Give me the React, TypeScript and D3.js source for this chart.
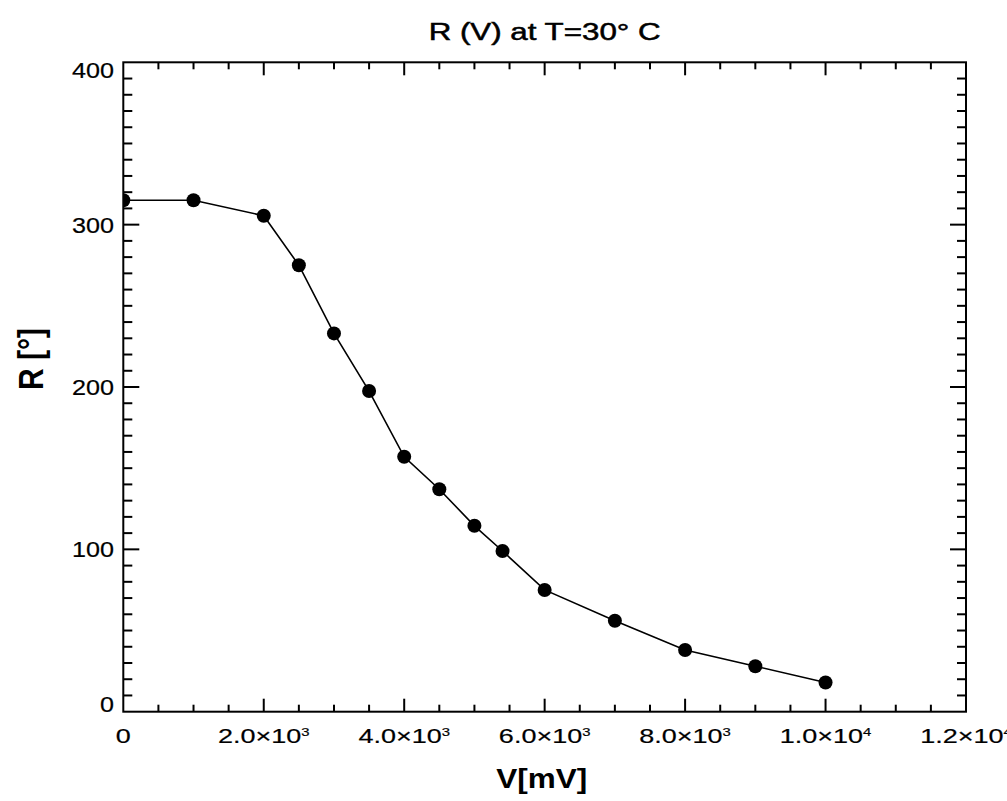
import React from "react";
import * as d3 from "d3";

const voltage = [0, 1000, 2000, 2500, 3000, 3500, 4000, 4500, 5000, 5400, 6000, 7000, 8000, 9000, 10000];
const resistance = [315, 315, 305.5, 275, 233, 197.5, 157, 137, 114.5, 99, 75, 56, 38, 28, 18];

const xMajorTicks = [0, 2000, 4000, 6000, 8000, 10000, 12000];
const xTickMantissa = ["0", "2.0×10", "4.0×10", "6.0×10", "8.0×10", "1.0×10", "1.2×10"];
const xTickExponent = ["", "3", "3", "3", "3", "4", "4"];
const yMajorTicks = [0, 100, 200, 300, 400];
const yTickLabels = ["0", "100", "200", "300", "400"];

const titleText = "R (V) at T=30° C";
const xLabelText = "V[mV]";
const yLabelText = "R [°]";

const W = 1007;
const H = 801;
const left = 123.3;
const right = 966;
const top = 62.3;
const bottom = 711.7;

export default function App() {
  const x = d3.scaleLinear().domain([0, 12000]).range([left, right]);
  const y = d3.scaleLinear().domain([0, 400]).range([bottom, top]);
  const xMinor = d3.range(0, 12001, 500);
  const yMinor = d3.range(0, 401, 10);
  const pts = voltage.map((v, i) => [v, resistance[i]] as [number, number]);
  const line = d3
    .line<[number, number]>()
    .x((d) => x(d[0]))
    .y((d) => y(d[1]));

  const font = "'Liberation Sans', Arial, sans-serif";
  const isXMajor = (v: number) => v % 2000 === 0;
  const isYMajor = (v: number) => v % 100 === 0;

  return (
    <svg
      width={W}
      height={H}
      style={{ position: "absolute", left: 0, top: 0, background: "#fff" }}
      fontFamily={font}
    >
      <defs>
        <clipPath id="plotClip">
          <rect x={left} y={top} width={right - left} height={bottom - top} />
        </clipPath>
      </defs>
      <rect x={0} y={0} width={W} height={H} fill="#fff" />

      {/* title */}
      <text x={(left + right) / 2} y={40} textAnchor="middle" fontSize={23} textLength={232} lengthAdjust="spacingAndGlyphs" fill="#000" stroke="#000" strokeWidth={0.5}>
        {titleText}
      </text>

      {/* ticks bottom/top */}
      {xMinor.map((v) => {
        if (v === 0 || v === 12000) return null;
        const len = isXMajor(v) ? 13 : 7;
        const xp = x(v);
        return (
          <g key={"xt" + v} stroke="#000" strokeWidth={2}>
            <line x1={xp} x2={xp} y1={bottom} y2={bottom - len} />
            <line x1={xp} x2={xp} y1={top} y2={top + len} />
          </g>
        );
      })}
      {yMinor.map((v) => {
        if (v === 0 || v === 400) return null;
        const len = isYMajor(v) ? 16 : 9;
        const yp = y(v);
        return (
          <g key={"yt" + v} stroke="#000" strokeWidth={2}>
            <line x1={left} x2={left + len} y1={yp} y2={yp} />
            <line x1={right} x2={right - len} y1={yp} y2={yp} />
          </g>
        );
      })}

      {/* frame */}
      <rect x={left} y={top} width={right - left} height={bottom - top} fill="none" stroke="#000" strokeWidth={2} />

      {/* data */}
      <g clipPath="url(#plotClip)">
        <path d={line(pts) || ""} fill="none" stroke="#000" strokeWidth={1.6} />
        {pts.map((d, i) => (
          <circle key={i} cx={x(d[0])} cy={y(d[1])} r={7} fill="#000" />
        ))}
      </g>

      {/* y tick labels */}
      {yMajorTicks.map((v, i) => {
        const c = Math.min(Math.max(y(v), top + 8), bottom - 8);
        const label = yTickLabels[i];
        return (
          <text
            key={"yl" + v}
            x={114}
            y={c + 8}
            textAnchor="end"
            fontSize={22}
            textLength={label.length * 14}
            lengthAdjust="spacingAndGlyphs"
            fill="#000"
            stroke="#000"
            strokeWidth={0.2}
          >
            {label}
          </text>
        );
      })}

      {/* x tick labels */}
      {xMajorTicks.map((v, i) => (
        <g key={"xl" + v} transform={`translate(${x(v)},743) scale(1.35,1)`}>
          <text x={0} y={0} textAnchor="middle" fontSize={20} fill="#000" stroke="#000" strokeWidth={0.2}>
            {xTickMantissa[i]}
            {xTickExponent[i] ? (
              <tspan fontSize={11} dy={-7}>
                {xTickExponent[i]}
              </tspan>
            ) : null}
          </text>
        </g>
      ))}

      {/* axis labels */}
      <text x={(left + right) / 2 - 3} y={788} textAnchor="middle" fontSize={28} fontWeight="bold" textLength={91} lengthAdjust="spacingAndGlyphs" fill="#000">
        {xLabelText}
      </text>
      <g transform="translate(43,359) scale(1.3,1) rotate(-90)">
        <text x={0} y={0} textAnchor="middle" fontSize={27} fontWeight="bold" textLength={62} lengthAdjust="spacingAndGlyphs" fill="#000">
          {yLabelText}
        </text>
      </g>
    </svg>
  );
}
